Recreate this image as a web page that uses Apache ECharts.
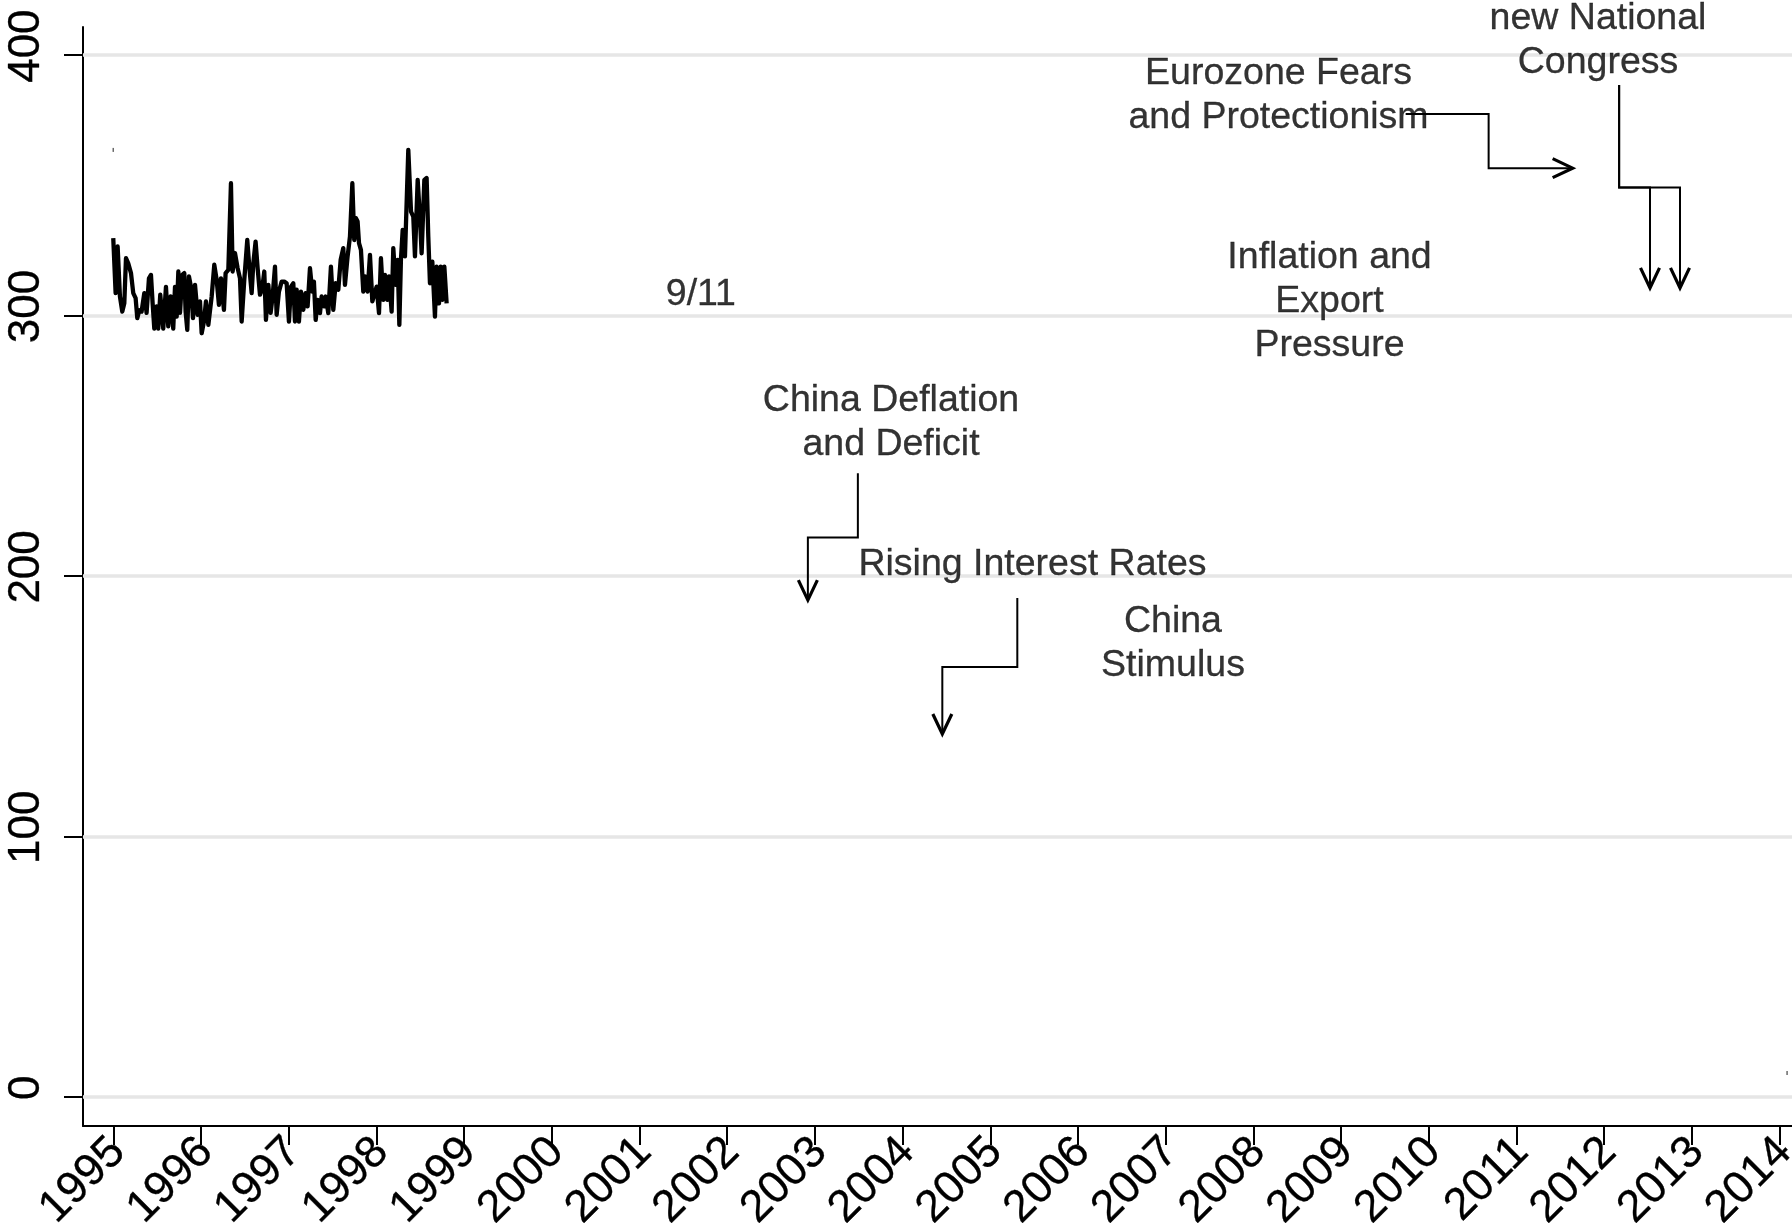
<!DOCTYPE html>
<html><head><meta charset="utf-8">
<script src="https://cdn.jsdelivr.net/npm/echarts@6/dist/echarts.min.js"></script>
<style>html,body{margin:0;padding:0;background:#fff;overflow:hidden;width:1792px;height:1228px}#c{width:1792px;height:1228px;overflow:hidden}</style>
</head><body><div id="c"></div>
<script>
// ---- axis ticks ----
const yearTicks = [1995,1996,1997,1998,1999,2000,2001,2002,2003,2004,2005,2006,2007,2008,2009,2010,2011,2012,2013,2014];
const valueTicks = [0,100,200,300,400];

// ---- main series (decimal year, value) ----
const lineDates = [
1995.000,1995.027,1995.050,1995.076,1995.103,1995.126,1995.145,1995.171,1995.202,1995.228,
1995.255,1995.274,1995.297,1995.323,1995.354,1995.380,1995.407,1995.430,1995.449,1995.468,
1995.495,1995.513,1995.536,1995.570,1995.601,1995.627,1995.654,1995.684,1995.704,1995.723,
1995.742,1995.761,1995.787,1995.810,1995.825,1995.844,1995.863,1995.886,1995.909,1995.932,
1995.962,1995.989,1996.008,1996.034,1996.057,1996.084,1996.122,1996.152,1996.179,1996.205,
1996.228,1996.262,1996.281,1996.312,1996.342,1996.361,1996.388,1996.418,1996.445,1996.464,
1996.494,1996.528,1996.551,1996.578,1996.597,1996.623,1996.646,1996.673,1996.699,1996.722,
1996.741,1996.768,1996.794,1996.817,1996.844,1996.863,1996.889,1996.920,1996.950,
1996.977,1997.003,1997.026,1997.053,1997.072,1997.091,1997.117,1997.140,1997.167,1997.193,
1997.216,1997.243,1997.269,1997.288,1997.308,1997.330,1997.357,1997.376,1997.406,1997.422,
1997.452,1997.482,1997.509,1997.536,1997.566,1997.593,1997.623,1997.642,1997.672,1997.699,
1997.726,1997.748,1997.767,1997.786,1997.802,1997.824,1997.851,1997.870,1997.900,1997.927,
1997.954,1997.976,1998.003,1998.030,1998.052,1998.079,1998.098,1998.125,1998.144,1998.174,
1998.193,1998.220,1998.243,1998.262,1998.280,1998.300,1998.326,1998.364,1998.395,1998.421,
1998.440,1998.471,1998.497,1998.516,1998.547,1998.573,1998.592,1998.611,1998.638,1998.668,
1998.687,1998.714,1998.733,1998.752,1998.775,1998.801
];
const lineValues = [
329.7,308.6,326.5,307.3,301.5,304.7,322.0,320.0,316.3,308.6,
306.7,299.0,302.0,301.5,308.6,301.0,314.3,315.6,304.7,295.0,
303.5,295.0,308.0,295.0,311.0,295.8,307.3,295.0,311.0,299.6,
316.9,301.0,315.6,316.3,301.5,294.5,315.0,311.0,299.0,311.8,
300.3,305.4,293.2,297.7,305.4,296.4,307.3,319.5,313.7,304.1,
314.3,302.2,316.3,317.5,350.8,316.9,324.0,318.2,314.3,297.7,
313.7,329.0,318.8,308.6,320.1,328.4,318.2,308.0,310.5,316.9,
298.3,311.8,301.0,307.3,318.8,300.3,309.2,313.0,313.0,
312.4,297.7,311.1,312.4,297.7,309.9,297.7,309.2,302.2,308.6,
303.5,318.2,309.2,313.0,298.3,306.0,300.9,307.3,303.5,307.3,
300.9,318.8,302.2,312.4,309.9,321.4,325.9,311.8,322.7,330.3,
350.8,329.0,337.4,336.1,327.8,325.2,309.2,315.0,309.2,323.3,
305.4,304.7,311.1,300.9,322.0,306.0,315.6,306.0,315.0,301.5,
325.9,311.8,321.4,296.4,321.4,332.9,322.7,363.6,339.9,338.0,
322.7,352.1,337.4,323.9,352.1,352.8,330.3,312.4,320.7,299.6,
318.8,304.7,318.8,306.0,318.8,304.7
];

// ---- stray tiny marks ----
const strayDates = [1995.000, 2014.085];
const strayValues = [363.6, 9.1];

// ---- annotation texts (centre position in data space) ----
const noteTexts = ['9/11', 'China Deflation\nand Deficit', 'Rising Interest Rates', 'China\nStimulus',
  'Inflation and\nExport\nPressure', 'Eurozone Fears\nand Protectionism', 'new National\nCongress'];
const noteDates = [2001.700, 2003.868, 2005.481, 2007.083, 2008.868, 2008.286, 2011.929];
const noteValues = [308.0, 259.0, 204.3, 173.9, 305.3, 384.5, 405.7];

// ---- arrows (elbow connectors, last point is the tip) ----
const arrowChinaDeflation = [[2003.490,239.4],[2003.490,214.8],[2002.920,214.8],[2002.920,190.7]];
const arrowRisingRates = [[2005.308,191.5],[2005.308,165.0],[2004.453,165.0],[2004.453,139.3]];
const arrowEurozone = [[2009.736,377.4],[2010.682,377.4],[2010.682,356.6],[2011.640,356.6]];
const arrowCongressA = [[2012.170,388.5],[2012.170,349.2],[2012.522,349.2],[2012.522,310.6]];
const arrowCongressB = [[2012.170,388.5],[2012.170,349.2],[2012.864,349.2],[2012.864,310.6]];
const arrows = [arrowChinaDeflation, arrowRisingRates, arrowEurozone, arrowCongressA, arrowCongressB];

const FONT = 'Liberation Sans, Arial, sans-serif';
const chart = echarts.init(document.getElementById('c'), null, {renderer: 'canvas', width: 1792, height: 1228});
chart.setOption({
  backgroundColor: '#ffffff',
  animation: false,
  grid: {left: 83, right: 0, top: 27, bottom: 102, containLabel: false, outerBoundsMode: 'none'},
  xAxis: {
    type: 'value', min: 1994.655, max: 2014.141,
    axisLine: {show: true, onZero: false, lineStyle: {color: '#000', width: 2}},
    axisTick: {show: true, length: 19, customValues: yearTicks, lineStyle: {color: '#000', width: 2}},
    axisLabel: {customValues: yearTicks, rotate: 45, margin: 14, fontSize: 45, color: '#000',
      fontFamily: FONT, verticalAlign: 'top', lineHeight: 14,
      textBorderColor: '#000', textBorderWidth: 0.3, formatter: v => String(v)},
    splitLine: {show: false}
  },
  yAxis: {
    type: 'value', min: -11.25, max: 410.8,
    axisLine: {show: true, onZero: false, lineStyle: {color: '#000', width: 2}},
    axisTick: {show: true, length: 19, customValues: valueTicks, lineStyle: {color: '#000', width: 2}},
    axisLabel: {customValues: valueTicks, rotate: 90, margin: 34, fontSize: 44, color: '#000',
      fontFamily: FONT, padding: [0, 0, 0, 18], textBorderColor: '#000', textBorderWidth: 0.3,
      formatter: v => String(v)},
    splitLine: {show: false}
  },
  series: [
    {
      type: 'line', z: 1, data: [], silent: true,
      markLine: {
        z: 1, silent: true, symbol: 'none', label: {show: false},
        lineStyle: {color: '#e6e6e6', width: 3.5, type: 'solid'},
        data: valueTicks.map(v => ({yAxis: v}))
      }
    },
    {
      type: 'line', z: 3, silent: true, symbol: 'none',
      lineStyle: {color: '#000', width: 4.3, join: 'round'},
      data: lineDates.map((d, i) => [d, lineValues[i]])
    },
    {
      type: 'scatter', z: 3, silent: true, symbol: 'rect', symbolSize: [1.5, 4],
      itemStyle: {color: '#444'},
      data: strayDates.map((d, i) => [d, strayValues[i]])
    },
    {
      type: 'custom', coordinateSystem: 'cartesian2d', z: 4, silent: true, clip: false,
      data: arrows.map((a, i) => [a[0][0], a[0][1], i]),
      encode: {x: 0, y: 1},
      renderItem: function (params, api) {
        const pts = arrows[params.dataIndex].map(p => api.coord(p));
        const n = pts.length, tip = pts[n - 1], prev = pts[n - 2];
        const dx = tip[0] - prev[0], dy = tip[1] - prev[1];
        const len = Math.hypot(dx, dy), ux = dx / len, uy = dy / len;
        const back = 20, side = 9.5;
        const a1 = [tip[0] - ux * back - uy * side, tip[1] - uy * back + ux * side];
        const a2 = [tip[0] - ux * back + uy * side, tip[1] - uy * back - ux * side];
        return {type: 'group', children: [
          {type: 'polyline', shape: {points: pts}, style: {stroke: '#000', lineWidth: 2, fill: null}},
          {type: 'polyline', shape: {points: [a1, tip, a2]}, style: {stroke: '#000', lineWidth: 3.2, fill: null}}
        ]};
      }
    },
    {
      type: 'scatter', z: 5, silent: true, symbolSize: 1, clip: false,
      itemStyle: {color: 'rgba(0,0,0,0)'},
      data: noteDates.map((d, i) => ({value: [d, noteValues[i]], name: noteTexts[i]})),
      label: {show: true, position: 'inside', formatter: p => p.name, fontSize: 37.5, lineHeight: 44,
        color: '#000', fontFamily: FONT, align: 'center', verticalAlign: 'middle',
        textBorderColor: '#000', textBorderWidth: 0.3},
      labelLayout: {hideOverlap: false}
    }
  ]
});
</script>
</body></html>
